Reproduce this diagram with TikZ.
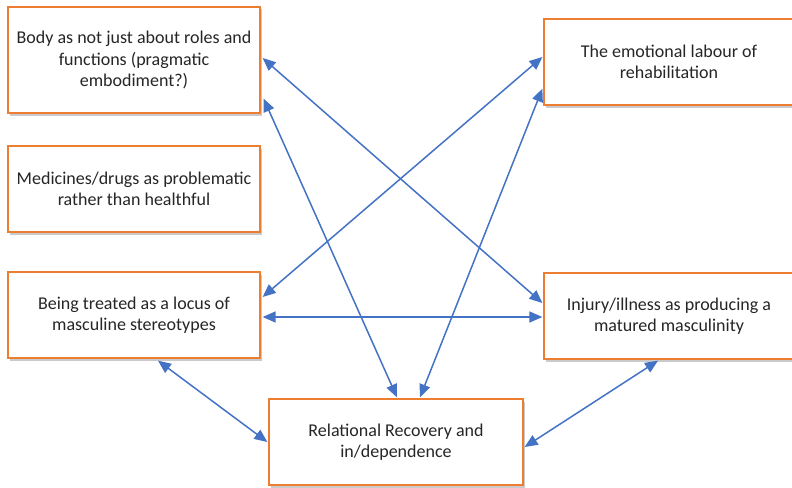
\documentclass[tikz,border=0pt]{standalone}
\usepackage{fontspec}
\setmainfont{Carlito}
\usetikzlibrary{arrows.meta,shadows,calc}
\definecolor{boxorange}{HTML}{ED7D31}
\definecolor{arrowblue}{HTML}{4472C4}
\definecolor{txt}{HTML}{262626}
\tikzset{
  theme/.style={draw=boxorange, line width=1.3pt, fill=white, align=center,
    text=txt, font=\fontsize{18}{21.5}\selectfont, inner sep=0pt,
    drop shadow={opacity=0.35, shadow xshift=2pt, shadow yshift=-2.5pt, fill=black!60}},
  link/.style={arrowblue, line width=1.5pt,
    {Triangle[length=13pt,width=11pt]}-{Triangle[length=13pt,width=11pt]}}
}
\begin{document}
\begin{tikzpicture}[x=1pt,y=-1pt]
\useasboundingbox (0,0) rectangle (792,487);
\node[theme, minimum width=252pt, minimum height=106pt] (b1) at (134,60)
  {Body as not just about roles and\\functions (pragmatic\\embodiment?)};
\node[theme, minimum width=250pt, minimum height=86pt] (b2) at (669,62)
  {The emotional labour of\\rehabilitation};
\node[theme, minimum width=252pt, minimum height=86pt] (b3) at (134,189)
  {Medicines/drugs as problematic\\rather than healthful};
\node[theme, minimum width=252pt, minimum height=86pt] (b4) at (134,315)
  {Being treated as a locus of\\masculine stereotypes};
\node[theme, minimum width=250pt, minimum height=86pt] (b5) at (669,316)
  {Injury/illness as producing a\\matured masculinity};
\node[theme, minimum width=254pt, minimum height=86pt] (b6) at (396,442)
  {Relational Recovery and\\in/dependence};

\draw[link] ([xshift=2pt,yshift=2pt]b1.east) -- ([xshift=-1pt,yshift=13pt]b5.west);
\draw[link] ([shift={(3pt,15pt)}]b1.south east) -- ([xshift=1pt,yshift=1pt]b6.north);
\draw[link] ([xshift=-1pt,yshift=5pt]b2.west) -- ([xshift=2pt,yshift=18pt]b4.east);
\draw[link] ([xshift=-1pt,yshift=17pt]b2.south west) -- ([xshift=24pt,yshift=1pt]b6.north);
\draw[link] ([xshift=2pt,yshift=-2pt]b4.east) -- ([xshift=-1pt,yshift=-1pt]b5.west);
\draw[link] ([xshift=24pt,yshift=-2pt]b4.south) -- ([xshift=-1pt]b6.west);
\draw[link] ([xshift=-11pt,yshift=-1pt]b5.south) -- ([xshift=1pt,yshift=-5pt]b6.east);
\end{tikzpicture}
\end{document}
